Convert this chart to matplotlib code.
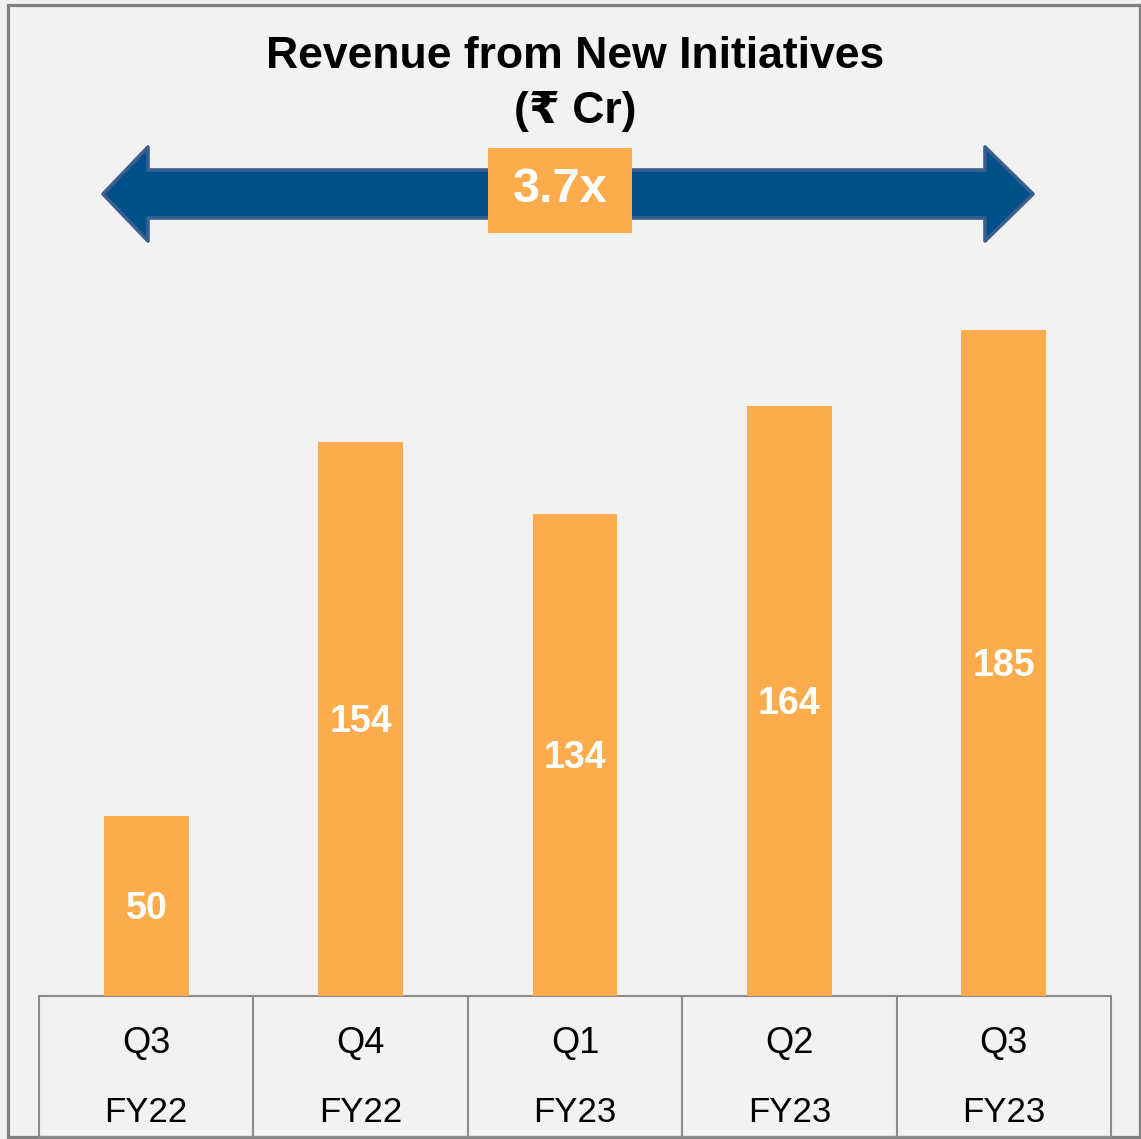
import matplotlib.pyplot as plt
from matplotlib.patches import Polygon, Rectangle
import matplotlib.transforms as mtransforms

# data
quarters = ['Q3', 'Q4', 'Q1', 'Q2', 'Q3']
years = ['FY22', 'FY22', 'FY23', 'FY23', 'FY23']
revenue = [50, 154, 134, 164, 185]
growth_label = '3.7x'

bar_col = '#FCAC4C'
navy = '#00508A'
grey = '#8C8C8C'
bg = '#F2F2F2'
fonttype = ['Liberation Sans', 'DejaVu Sans']

W, H = 1141, 1139
fig = plt.figure(figsize=(W / 100, H / 100), dpi=100, facecolor=bg)

# pixel overlay for frame, arrow and table grid
ov = fig.add_axes([0, 0, 1, 1])
ov.set_xlim(0, W)
ov.set_ylim(H, 0)
ov.axis('off')
ov.patch.set_alpha(0)

ov.add_patch(Rectangle((8, 5), 1132, 1132, fill=False, edgecolor='#808080', lw=2.3))

# double headed arrow
pts = [(103, 194), (148, 147), (148, 170), (985, 170), (985, 147), (1033, 194),
       (985, 241), (985, 218), (148, 218), (148, 241)]
ov.add_patch(Polygon(pts, closed=True, facecolor=navy, edgecolor='#3A5E8E', lw=2.6, joinstyle='round'))
ov.add_patch(Rectangle((488, 148), 144, 85, facecolor=bar_col, edgecolor='none'))
ov.text(560, 189, growth_label, color='white', fontsize=35, fontweight='bold',
        ha='center', va='center', family=fonttype)

ov.text(575, 56, 'Revenue from New Initiatives', fontsize=32, fontweight='bold',
        ha='center', va='center', family=fonttype)
ov.text(575, 111, '(₹ Cr)', fontsize=32, fontweight='bold',
        ha='center', va='center', family=['Liberation Sans', 'DejaVu Sans', 'Noto Sans'])

# table grid under bars
ov.add_patch(Rectangle((39, 996), 1072, 141, fill=False, edgecolor=grey, lw=1.5))
for xl in [253.4, 467.8, 682.2, 896.6]:
    ov.plot([xl, xl], [996, 1137], color=grey, lw=1.5)

# bars
ax = fig.add_axes([39 / W, (H - 996) / H, 1072 / W, 900 / H])
ax.patch.set_alpha(0)
ax.axis('off')
xs = list(range(len(revenue)))
ax.bar(xs, revenue, width=0.396, color=bar_col)
ax.set_xlim(-0.5, 4.5)
ax.set_ylim(0, 250)
for x, v in zip(xs, revenue):
    ax.text(x, v / 2 - 0.8, str(v), color='white', fontsize=27, fontweight='bold',
            ha='center', va='center', family=fonttype)

trans = mtransforms.blended_transform_factory(ax.transData, ax.transAxes)
for x, q, y in zip(xs, quarters, years):
    ax.text(x, (996 - 1043) / 900, q, transform=trans, fontsize=26, ha='center', va='center',
            family=fonttype, clip_on=False)
    ax.text(x, (996 - 1113) / 900, y, transform=trans, fontsize=25, ha='center', va='center',
            family=fonttype, clip_on=False)

plt.savefig('out.png', dpi=100, facecolor=bg)
